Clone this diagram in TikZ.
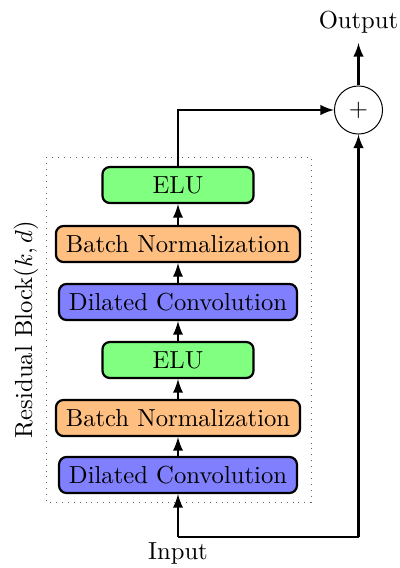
\documentclass[tikz,border=0pt]{standalone}
\usetikzlibrary{positioning}
\begin{document}
\begin{tikzpicture}[x=0.4057pt, y=-0.4057pt,
  layer/.style={draw, line width=0.9pt, rounded corners=3pt, inner xsep=4pt,
    minimum height=14.6pt, font=\normalsize},
  conv/.style={layer, fill=blue!50},
  bnorm/.style={layer, fill=orange!50},
  elu/.style={layer, fill=green!50, minimum width=61.3pt},
  flow/.style={-latex, line width=0.9pt},
]
\useasboundingbox (0,0) rectangle (400,568);

% residual block frame
\draw[dotted, gray!80!black, thin] (46,157) rectangle (311,502);
\node[rotate=90, anchor=center] (blk) at (26,329.5) {Residual Block$(k,d)$};

% layers, bottom to top
\node[conv]  (c1) at (178,475) {Dilated Convolution};
\node[bnorm] (b1) at (178,418) {Batch Normalization};
\node[elu]   (e1) at (178,360) {ELU};
\node[conv]  (c2) at (178,302) {Dilated Convolution};
\node[bnorm] (b2) at (178,244) {Batch Normalization};
\node[elu]   (e2) at (178,185) {ELU};

% summation and terminals
\node[draw, circle, thin, minimum size=19.5pt, inner sep=0pt] (sum) at (358.5,110) {$+$};
\node (in)  at (178,553) {Input};
\node (out) at (358.5,22) {Output};
\coordinate (split) at (178,537);
\coordinate (topturn) at (178,110);
\coordinate (outtip) at (358.5,43);
\coordinate (rturn) at (358.5,537);

% connections
\draw[flow] (split) -- (c1.south);
\draw[line width=0.9pt] (split) -- (rturn);
\draw[flow] (rturn) -- (sum.south);
\draw[flow] (c1) -- (b1);
\draw[flow] (b1) -- (e1);
\draw[flow] (e1) -- (c2);
\draw[flow] (c2) -- (b2);
\draw[flow] (b2) -- (e2);
\draw[flow] (e2.north) -- (topturn) -- (sum.west);
\draw[flow] (sum.north) -- (outtip);
\end{tikzpicture}
\end{document}
